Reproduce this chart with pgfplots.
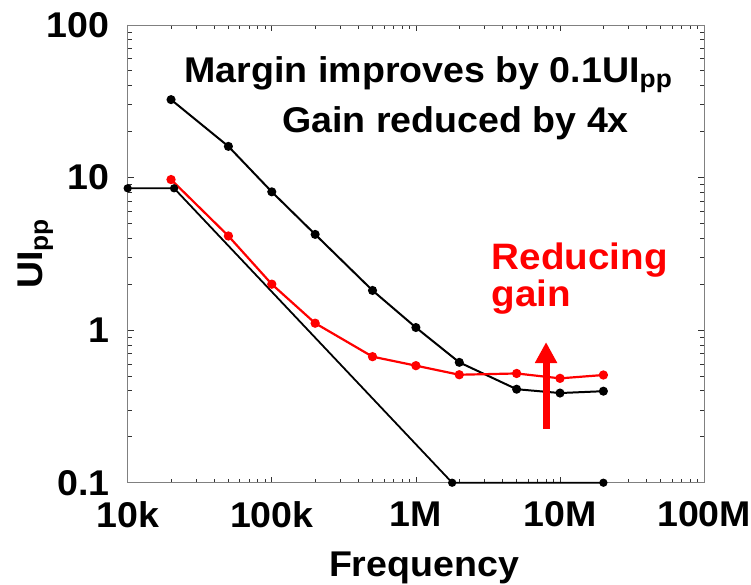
\documentclass[border=0pt]{standalone}
\usepackage{pgfplots}
\pgfplotsset{compat=1.18}
\usepackage{fontspec}
\setmainfont[FakeStretch=1.05]{Liberation Sans}
\usetikzlibrary{arrows.meta}
\begin{document}
\begin{tikzpicture}
\useasboundingbox (-128bp,-102bp) rectangle (625bp,484bp);
\begin{axis}[
  anchor=south west, at={(0,0)},
  scale only axis, width=578bp, height=459bp,
  xmode=log, ymode=log,
  xmin=1e4, xmax=1e8, ymin=0.1, ymax=100,
  xtick={1e4,1e5,1e6,1e7,1e8}, xticklabels={10k,100k,1M,10M,100M},
  ytick={0.1,1,10,100}, yticklabels={0.1,1,10,100},
  tick label style={font=\fontsize{36}{40}\selectfont\bfseries, inner sep=0pt},
  xticklabel style={yshift=-19bp},
  yticklabel style={xshift=-18bp},
  tick align=inside, major tick length=6bp, minor tick length=4bp,
  axis line style={black!50, line width=0.8bp},
  every tick/.style={black!80, line width=0.8bp},
  clip=false,
  xlabel={Frequency}, ylabel={UI\textsubscript{pp}},
  label style={font=\fontsize{36}{40}\selectfont\bfseries, inner sep=0pt},
  xlabel style={at={([yshift=-94bp]axis description cs:0.514,0)}, anchor=base},
  ylabel style={at={([xshift=-85bp]axis description cs:0,0.5)}, anchor=base},
]
\addplot[black, line width=1.8bp, mark=*, mark size=3.2bp]
  coordinates {(1e4,8.5)(2.1e4,8.5)(1.785e6,0.1)(2e7,0.1)};
\addplot[black, line width=2bp, mark=*, mark size=3.5bp]
  coordinates {(2e4,32.4)(5e4,16.0)(1e5,8.06)(2e5,4.24)(5e5,1.82)(1e6,1.04)(2e6,0.615)(5e6,0.41)(1e7,0.387)(2e7,0.398)};
\addplot[red, line width=2.2bp, mark=*, mark size=3.5bp]
  coordinates {(2e4,9.7)(5e4,4.14)(1e5,2.0)(2e5,1.11)(5e5,0.67)(1e6,0.585)(2e6,0.51)(5e6,0.52)(1e7,0.483)(2e7,0.508)};
\draw[red, line width=7bp, -{Triangle[width=21bp,length=21bp]}]
  (axis cs:8e6,0.225) -- (axis cs:8e6,0.835);
\node[anchor=base west, inner sep=0pt, font=\fontsize{36}{40}\selectfont\bfseries]
  at (axis description cs:0.0986,0.8736) {Margin improves by 0.1UI\textsubscript{pp}};
\node[anchor=base west, inner sep=0pt, font=\fontsize{36}{40}\selectfont\bfseries]
  at (axis description cs:0.268,0.7647) {Gain reduced by 4x};
\node[anchor=base west, inner sep=0pt, red, font=\fontsize{37}{40}\selectfont\bfseries]
  at (axis description cs:0.6315,0.4662) {Reducing};
\node[anchor=base west, inner sep=0pt, red, font=\fontsize{37}{40}\selectfont\bfseries]
  at (axis description cs:0.6315,0.3856) {gain};
\end{axis}
\end{tikzpicture}
\end{document}
